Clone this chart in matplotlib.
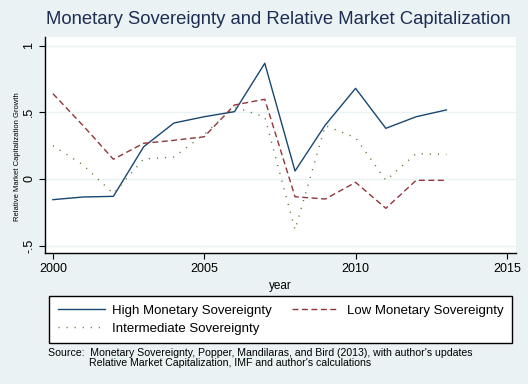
import matplotlib
matplotlib.use("Agg")
import matplotlib.pyplot as plt

plt.rcParams['font.family'] = ['Liberation Sans', 'DejaVu Sans']

years = [2000, 2001, 2002, 2003, 2004, 2005, 2006, 2007, 2008, 2009, 2010, 2011, 2012, 2013]
high_ms = [-0.155, -0.135, -0.13, 0.242, 0.42, 0.467, 0.505, 0.868, 0.06, 0.405, 0.68, 0.38, 0.467, 0.518]
low_ms = [0.64, 0.40, 0.148, 0.268, 0.29, 0.317, 0.555, 0.598, -0.133, -0.15, -0.025, -0.22, -0.01, -0.01]
inter_ms = [0.25, 0.105, -0.11, 0.15, 0.165, 0.335, 0.54, 0.465, -0.38, 0.40, 0.31, -0.01, 0.19, 0.185]

x_ticks = [2000, 2005, 2010, 2015]
y_ticks = [-0.5, 0, 0.5, 1]
y_tick_labels = ['-.5', '0', '.5', '1']

bg = '#EAF2F3'
navy = '#1A476F'
maroon = '#90353B'
green = '#55752F'

fig = plt.figure(figsize=(5.28, 3.84), dpi=100, facecolor=bg)
ax = fig.add_axes([45/528, 1 - 253/384, (516 - 45)/528, (253 - 37)/384])
ax.set_facecolor('white')

l1, = ax.plot(years, high_ms, color=navy, lw=1.0, label='High Monetary Sovereignty')
l2, = ax.plot(years, low_ms, color=maroon, lw=1.0, linestyle=(0, (4.3, 2.5)),
              label='Low Monetary Sovereignty')
l3, = ax.plot(years, inter_ms, color=green, lw=1.0, linestyle=(0, (0.8, 5)),
              label='Intermediate Sovereignty')

ax.set_xlim(1999.74, 2015.3)
ax.set_ylim(-0.555, 1.065)
ax.set_xticks(x_ticks)
ax.set_yticks(y_ticks)
ax.set_yticklabels(y_tick_labels, rotation=90, va='center')
ax.tick_params(labelsize=9, length=4, width=0.8, colors='black')
ax.tick_params(axis='y', pad=3)
ax.grid(axis='y', color=bg, lw=1.0)
ax.set_axisbelow(True)
for s in ['top', 'right']:
    ax.spines[s].set_visible(False)
for s in ['left', 'bottom']:
    ax.spines[s].set_linewidth(1.0)

ax.set_xlabel('year', fontsize=8.5, labelpad=3)
ax.set_ylabel('Relative Market Capitalization Growth', fontsize=5.5)
ax.yaxis.set_label_coords(-0.05, 0.444)

fig.text(278/528, 1 - 20/384, 'Monetary Sovereignty and Relative Market Capitalization',
         ha='center', va='center', fontsize=13.3, color='#1E2D53')

leg = fig.legend(handles=[l1, l3, l2], ncol=2, loc='upper left',
                 bbox_to_anchor=(49/528, 1 - 296/384), fontsize=9.5,
                 handlelength=3.56, handletextpad=0.6, columnspacing=1.5,
                 borderpad=0.65, labelspacing=0.42, fancybox=False,
                 framealpha=1, edgecolor='black', borderaxespad=0)
leg.get_frame().set_linewidth(1.0)

fig.text(48/528, 1 - 353/384,
         "Source:  Monetary Sovereignty, Popper, Mandilaras, and Bird (2013), with author's updates",
         fontsize=7.6, va='center', ha='left')
fig.text(89/528, 1 - 363/384,
         "Relative Market Capitalization, IMF and author's calculations",
         fontsize=7.6, va='center', ha='left')

fig.savefig('out.png', dpi=100, facecolor=bg)
